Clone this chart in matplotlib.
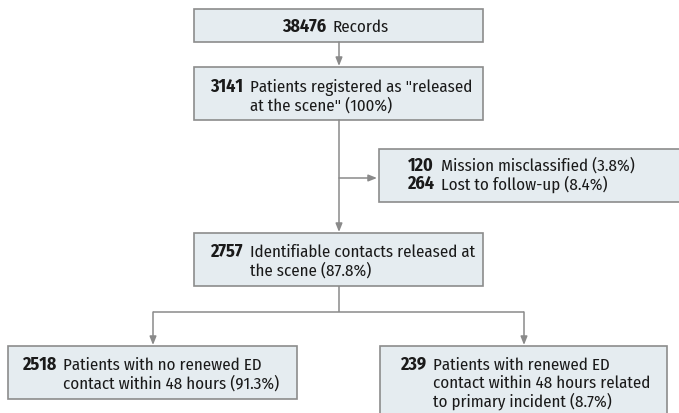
import matplotlib.pyplot as plt
from matplotlib.patches import Rectangle
from matplotlib import font_manager

# flowchart content
box_lines = [
    [("38476", "Records")],
    [("3141", 'Patients registered as "released'), ("", 'at the scene" (100%)')],
    [("2757", "Identifiable contacts released at"), ("", "the scene (87.8%)")],
    [("120", "Mission misclassified (3.8%)"), ("264", "Lost to follow-up (8.4%)")],
    [("2518", "Patients with no renewed ED"), ("", "contact within 48 hours (91.3%)")],
    [("239", "Patients with renewed ED"), ("", "contact within 48 hours related"),
     ("", "to primary incident (8.7%)")],
]

names = {f.name for f in font_manager.fontManager.ttflist}
FONT = "Fira Sans Condensed" if "Fira Sans Condensed" in names else "DejaVu Sans"
FS = 12.2
FS_NUM = 13

FILL = "#e5ecf0"
EDGE = "#8c8c8c"
LINE = "#8a8a8a"

fig = plt.figure(figsize=(6.79, 4.14), dpi=100)
ax = fig.add_axes([0, 0, 1, 1])
ax.set_xlim(0, 679)
ax.set_ylim(414, 0)
ax.axis("off")

# x0, y0, x1, y1, text_x, first_line_y, line_step
boxes = [
    (194, 10, 483, 43, 333, 27, 18),
    (194, 68, 483, 121, 250, 87, 19),
    (194, 234, 483, 287, 250, 252, 18.5),
    (379, 150, 685, 203, 441, 166, 18),
    (8, 347, 297, 400, 63, 365, 18.5),
    (380, 347, 667, 430, 433, 365, 18),
]

for (x0, y0, x1, y1, tx, ly, step), lines in zip(boxes, box_lines):
    ax.add_patch(Rectangle((x0, y0), x1 - x0, y1 - y0, facecolor=FILL,
                           edgecolor=EDGE, lw=1.2, clip_on=False))
    for i, (num, txt) in enumerate(lines):
        y = ly + i * step
        if num:
            ax.text(tx - 7, y, num, fontsize=FS_NUM, family=FONT, fontweight="bold",
                    va="center", ha="right", color="#1a1a1a")
        ax.text(tx, y, txt, fontsize=FS, family=FONT, va="center",
                ha="left", color="#1a1a1a")


def seg(x0, y0, x1, y1):
    ax.plot([x0, x1], [y0, y1], color=LINE, lw=1.1, solid_capstyle="butt")


def arrow(x0, y0, x1, y1):
    ax.annotate("", xy=(x1, y1), xytext=(x0, y0),
                arrowprops=dict(arrowstyle="-|>,head_length=0.5,head_width=0.2",
                                color=LINE, lw=1.1, shrinkA=0, shrinkB=0))


arrow(339, 43, 339, 67)
arrow(339, 121, 339, 233)
arrow(339, 179, 377, 179)
seg(339, 287, 339, 313)
seg(153, 313, 524, 313)
arrow(153, 313, 153, 346)
arrow(524, 313, 524, 346)

fig.savefig("out.png", dpi=100)
